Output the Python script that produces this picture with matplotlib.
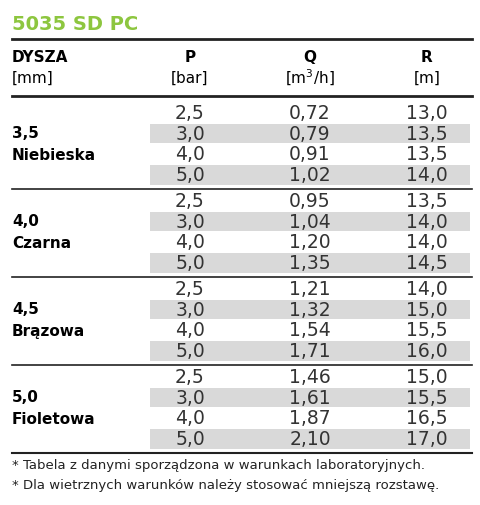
import matplotlib
matplotlib.use("Agg")
import matplotlib.pyplot as plt
from matplotlib.patches import Rectangle

plt.rcParams['font.family'] = ['Liberation Sans Narrow', 'DejaVu Sans']

TITLE = "5035 SD PC"
GREEN = "#8DC63F"
NOZZLES = [("3,5", "Niebieska"), ("4,0", "Czarna"), ("4,5", "Brązowa"), ("5,0", "Fioletowa")]
PRESSURE = ["2,5", "3,0", "4,0", "5,0"]
FLOW = [["0,72", "0,79", "0,91", "1,02"],
        ["0,95", "1,04", "1,20", "1,35"],
        ["1,21", "1,32", "1,54", "1,71"],
        ["1,46", "1,61", "1,87", "2,10"]]
RANGE = [["13,0", "13,5", "13,5", "14,0"],
         ["13,5", "14,0", "14,0", "14,5"],
         ["14,0", "15,0", "15,5", "16,0"],
         ["15,0", "15,5", "16,5", "17,0"]]
NOTES = ["* Tabela z danymi sporządzona w warunkach laboratoryjnych.",
         "* Dla wietrznych warunków należy stosować mniejszą rozstawę."]

fig = plt.figure(figsize=(4.8, 5.05), dpi=100)
ax = fig.add_axes([0, 0, 1, 1])
ax.set_xlim(0, 480); ax.set_ylim(505, 0); ax.axis("off")

ax.text(12, 24, TITLE, color=GREEN, fontsize=14, fontweight="bold", va="center",
        family=['DejaVu Sans'])
ax.plot([12, 472], [39, 39], color="#222222", lw=2)
ax.plot([12, 472], [96, 96], color="#222222", lw=2)

cols = [190, 310, 427]
ax.text(12, 57, "DYSZA", fontsize=11, fontweight="bold", va="center")
ax.text(12, 78, "[mm]", fontsize=11, va="center")
for x, h, u in zip(cols, ["P", "Q", "R"], ["[bar]", "[m$^3$/h]", "[m]"]):
    ax.text(x, 57, h, fontsize=11, fontweight="bold", va="center", ha="center")
    ax.text(x, 78, u, fontsize=11, va="center", ha="center")

row_h = 20.7
group_top = [103, 191, 279, 367]
for g, (size, colour) in enumerate(NOZZLES):
    top = group_top[g]
    for i in range(4):
        y = top + i * row_h
        if i % 2 == 1:
            ax.add_patch(Rectangle((150, y), 320, row_h - 1, color="#D9D9D9", lw=0))
        cy = y + row_h / 2
        for x, v in zip(cols, [PRESSURE[i], FLOW[g][i], RANGE[g][i]]):
            ax.text(x, cy, v, fontsize=13.5, ha="center", va="center", color="#333333")
    mid = top + 2 * row_h
    ax.text(12, mid - 11, size, fontsize=11, fontweight="bold", va="center")
    ax.text(12, mid + 11, colour, fontsize=11, fontweight="bold", va="center")
    bottom = top + 4 * row_h + 3
    ax.plot([12, 472], [bottom, bottom], color="#222222", lw=1.2 if g < 3 else 1.5)

ax.text(12, 466, NOTES[0], fontsize=9.5, va="center", color="#222222")
ax.text(12, 486, NOTES[1], fontsize=9.5, va="center", color="#222222")

fig.savefig("out.png", dpi=100)
